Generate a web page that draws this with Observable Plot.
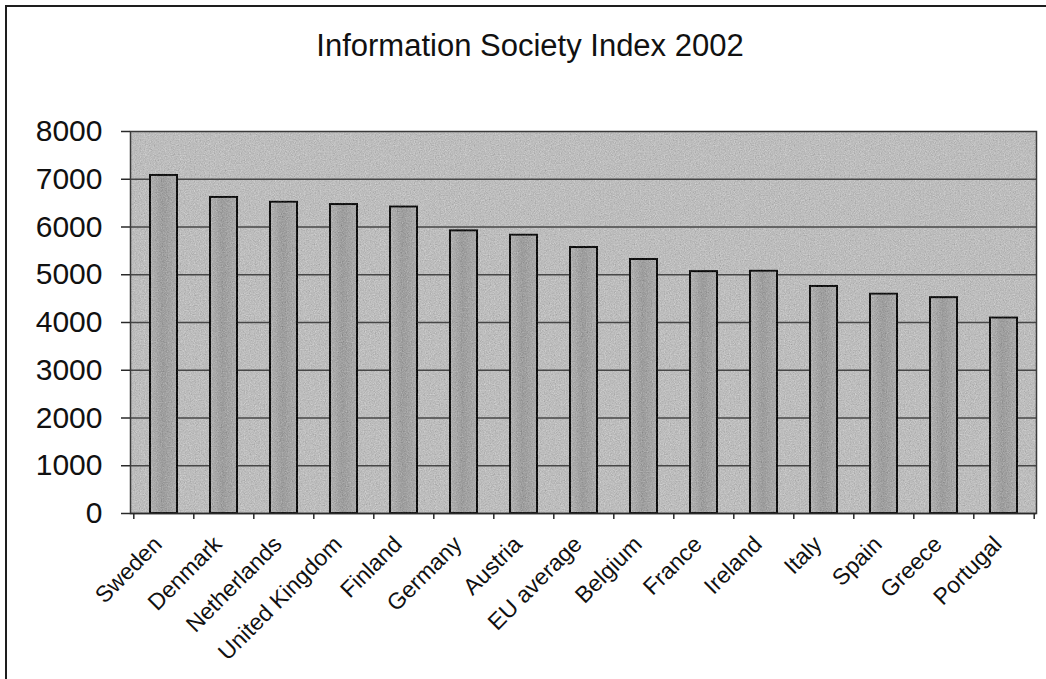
<!DOCTYPE html>
<html>
<head>
<meta charset="utf-8">
<script src="https://cdn.jsdelivr.net/npm/d3@7"></script>
<script src="https://cdn.jsdelivr.net/npm/@observablehq/plot@0.6"></script>
<style>
  html, body { margin: 0; padding: 0; background: #fff; overflow: hidden; }
  #page { position: relative; width: 1046px; height: 679px; overflow: hidden; font-family: "Liberation Sans", Arial, sans-serif; }
  #edge { position: absolute; left: 5px; top: 5px; width: 1100px; height: 700px; border-left: 2px solid #1e1e1e; border-top: 2px solid #1e1e1e; }
  #title { position: absolute; left: 14px; top: 30px; width: 1032px; text-align: center; font-size: 31px; line-height: 31px; color: #111; }
  #chart { position: absolute; left: 0; top: 0; }
</style>
</head>
<body>
<div id="page">
  <div id="edge"></div>
  <div id="chart"></div>
  <div id="title">Information Society Index 2002</div>
</div>
<script>
// Information Society Index 2002, by country
const countries = ["Sweden", "Denmark", "Netherlands", "United Kingdom", "Finland", "Germany", "Austria",
  "EU average", "Belgium", "France", "Ireland", "Italy", "Spain", "Greece", "Portugal"];
const scores = [7080, 6620, 6520, 6470, 6420, 5920, 5830, 5570, 5320, 5065, 5075, 4755, 4595, 4520, 4095];
const yTicks = [0, 1000, 2000, 3000, 4000, 5000, 6000, 7000, 8000];

const data = countries.map((country, i) => ({country, score: scores[i]}));

const W = 1046, H = 679;
const mLeft = 130, mRight = 10, mTop = 131, mBottom = 166;
const step = (W - mLeft - mRight) / countries.length;   // width of one category slot

const chart = Plot.plot({
  width: W,
  height: H,
  marginLeft: mLeft,
  marginRight: mRight,
  marginTop: mTop,
  marginBottom: mBottom,
  style: {fontFamily: "'Liberation Sans', Arial, sans-serif", color: "#111", background: "transparent"},
  x: {domain: countries, paddingInner: 0.55, paddingOuter: 0.275, label: null},
  y: {domain: [0, 8000], label: null},
  marks: [
    Plot.frame({fill: "#bdbdbd", stroke: null}),
    Plot.gridY(yTicks.filter(t => t > 0 && t < 8000), {stroke: "#474747", strokeOpacity: 1, strokeWidth: 1.4}),
    Plot.barY(data, {x: "country", y: "score", fill: "url(#barShade)", stroke: "#111", strokeWidth: 2}),
    Plot.frame({stroke: "#3a3a3a", strokeWidth: 1.5}),
    Plot.ruleY([0], {stroke: "#2a2a2a", strokeWidth: 1.6}),
    // tick marks on the category boundaries
    Plot.ruleX(countries, {x: d => d, y1: 0, y2: 0, dx: -step / 2, insetTop: 0, insetBottom: -6, stroke: "#2a2a2a", strokeWidth: 1.5}),
    Plot.ruleX(countries.slice(-1), {x: d => d, y1: 0, y2: 0, dx: step / 2, insetTop: 0, insetBottom: -6, stroke: "#2a2a2a", strokeWidth: 1.5}),
    Plot.axisY(yTicks, {tickSize: 9, tickPadding: 19, fontSize: 30, tickFormat: d3.format("d"), stroke: "#2a2a2a", strokeWidth: 1.5}),
    Plot.axisX({tickSize: 0, tickPadding: 27, dx: -6, tickRotate: -45, fontSize: 23})
  ]
});

document.getElementById("chart").appendChild(chart);

// shading and grain definitions
const svg = d3.select(chart);
const defs = svg.insert("defs", ":first-child");
const grad = defs.append("linearGradient").attr("id", "barShade").attr("x1", 0).attr("x2", 1).attr("y1", 0).attr("y2", 0);
grad.append("stop").attr("offset", "0%").attr("stop-color", "#b2b2b2");
grad.append("stop").attr("offset", "45%").attr("stop-color", "#9d9d9d");
grad.append("stop").attr("offset", "100%").attr("stop-color", "#ababab");

const f = defs.append("filter").attr("id", "grain")
  .attr("filterUnits", "userSpaceOnUse").attr("x", 0).attr("y", 0).attr("width", W).attr("height", H)
  .attr("color-interpolation-filters", "sRGB");
f.append("feTurbulence").attr("type", "fractalNoise").attr("baseFrequency", 0.8).attr("numOctaves", 2).attr("seed", 7).attr("result", "noise");
f.append("feColorMatrix").attr("in", "noise").attr("type", "matrix")
  .attr("values", "0.33 0.33 0.33 0 0  0.33 0.33 0.33 0 0  0.33 0.33 0.33 0 0  0 0 0 0 1").attr("result", "gray");
f.append("feComposite").attr("in", "SourceGraphic").attr("in2", "gray").attr("operator", "arithmetic")
  .attr("k1", 0).attr("k2", 1).attr("k3", 0.4).attr("k4", -0.2).attr("result", "mix");
f.append("feComposite").attr("in", "mix").attr("in2", "SourceGraphic").attr("operator", "in");

const frames = svg.selectAll('[aria-label="frame"]').nodes();
if (frames.length) d3.select(frames[0]).attr("filter", "url(#grain)");
svg.selectAll('[aria-label="bar"]').attr("filter", "url(#grain)");
</script>
</body>
</html>
